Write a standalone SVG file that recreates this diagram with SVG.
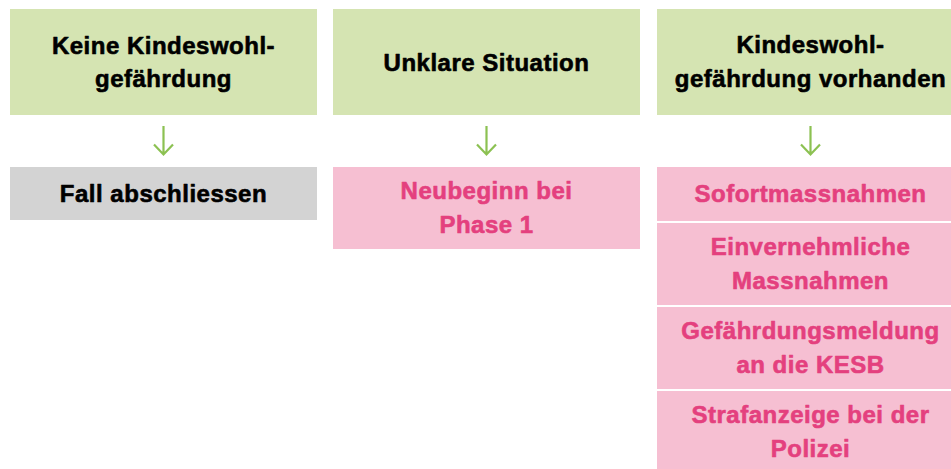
<svg xmlns="http://www.w3.org/2000/svg" width="951" height="469" viewBox="0 0 951 469">
<defs>
<style>
.g{fill:#d5e4b2}
.gr{fill:#d3d3d3}
.p{fill:#f6bfd2}
text{font-family:"Liberation Sans",Arial,sans-serif;font-weight:bold;font-size:24px;text-anchor:middle;letter-spacing:0.5px;stroke-width:0.6px;stroke-linejoin:round}
.k{fill:#000;stroke:#000}
.m{fill:#e4407e;stroke:#e4407e}
.c{fill:none;stroke:#8cc152;stroke-width:2.2;stroke-linecap:butt}
</style>
</defs>
<rect width="951" height="469" fill="#fff"/>
<g id="n1"><rect class="g" x="10" y="9" width="307" height="106"/><text class="k" x="163.5" y="54">Keine Kindeswohl-</text><text class="k" x="163.5" y="87">gefährdung</text></g>
<g id="n2"><rect class="g" x="333" y="9" width="307" height="106"/><text class="k" x="486.5" y="71">Unklare Situation</text></g>
<g id="n3"><rect class="g" x="657" y="9" width="307" height="106"/><text class="k" x="810.5" y="53">Kindeswohl-</text><text class="k" x="810.5" y="87">gefährdung vorhanden</text></g>
<g id="n4"><rect class="gr" x="10" y="167" width="307" height="53"/><text class="k" x="163.5" y="202">Fall abschliessen</text></g>
<g id="n5"><rect class="p" x="333" y="167" width="307" height="82"/><text class="m" x="486.5" y="199">Neubeginn bei</text><text class="m" x="486.5" y="233">Phase 1</text></g>
<g id="n6"><rect class="p" x="657" y="167" width="307" height="54"/><text class="m" x="810.5" y="202">Sofortmassnahmen</text></g>
<g id="n7"><rect class="p" x="657" y="223" width="307" height="82"/><text class="m" x="810.5" y="255">Einvernehmliche</text><text class="m" x="810.5" y="289">Massnahmen</text></g>
<g id="n8"><rect class="p" x="657" y="307" width="307" height="82"/><text class="m" x="810.5" y="339">Gefährdungsmeldung</text><text class="m" x="810.5" y="373">an die KESB</text></g>
<g id="n9"><rect class="p" x="657" y="391" width="307" height="78"/><text class="m" x="810.5" y="423">Strafanzeige bei der</text><text class="m" x="810.5" y="457">Polizei</text></g>
<g id="connectors">
<path class="c" d="M163.5 126V154.5M154 144.5L163.5 154.5L173 144.5"/>
<path class="c" d="M486.5 126V154.5M477 144.5L486.5 154.5L496 144.5"/>
<path class="c" d="M810.5 126V154.5M801 144.5L810.5 154.5L820 144.5"/>
</g>
</svg>
